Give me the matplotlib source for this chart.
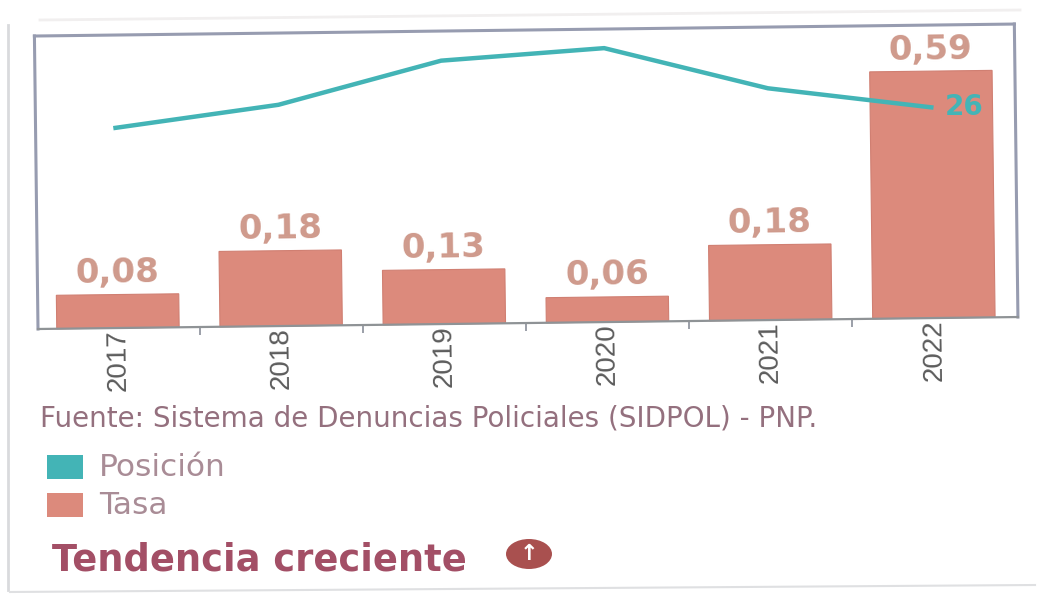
import numpy as np
from matplotlib import pyplot as plt
from matplotlib.patches import Ellipse, FancyBboxPatch
from matplotlib.transforms import Affine2D

years = ["2017", "2018", "2019", "2020", "2021", "2022"]
tasa = [0.08, 0.18, 0.13, 0.06, 0.18, 0.59]
tasa_labels = ["0,08", "0,18", "0,13", "0,06", "0,18", "0,59"]
posicion = [27, 25, 21, 20, 24, 26]
posicion_last = "26"

W, H = 1037, 595
red = "#dc8a7c"
teal = "#43b4b6"
label_red = "#cf9a8c"

fig = plt.figure(figsize=(W / 100, H / 100), dpi=100)
fig.patch.set_facecolor("white")

# the page was scanned a little crooked, so the plot is turned with it
tilt = Affine2D().rotate_deg_around(38, H - 329, 0.7)

ax = fig.add_axes([38 / W, 1 - 329 / H, (1018 - 38) / W, (329 - 36) / H])
ax.set_facecolor("white")
x = np.arange(len(years))
bars = ax.bar(x, tasa, width=0.75, color=red, edgecolor="#d07f72", linewidth=0.8)
for b in bars:
    b.set_transform(ax.transData + tilt)
    b.set_clip_on(False)
ax.set_xlim(-0.49, 5.515)
ax.set_ylim(0, 0.70)
ax.set_xticks(x)
ax.set_xticklabels(years, rotation=90.7, fontsize=20, color="#5c5c5c", family="Liberation Sans")
ax.set_xticks(x[:-1] + 0.5, minor=True)
ax.set_yticks([])
ax.tick_params(axis="x", which="major", length=0, pad=1)
ax.tick_params(axis="x", which="minor", length=6, width=1.2, color="#8a8f99")
ax.figure.canvas.draw()
for tick in ax.xaxis.get_major_ticks() + ax.xaxis.get_minor_ticks():
    for part in (tick.label1, tick.tick1line):
        part.set_transform(part.get_transform() + tilt)

for s in ax.spines.values():
    s.set_transform(s.get_transform() + tilt)
    s.set_color("#979cb0")
    s.set_linewidth(2.2)
ax.spines["bottom"].set_color("#8f9396")
ax.spines["bottom"].set_linewidth(1.6)

for xi, v, t in zip(x, tasa, tasa_labels):
    ax.text(xi, v + 0.012, t, ha="center", va="bottom", fontsize=24.5, fontweight="bold",
            color=label_red, family="DejaVu Sans", rotation=0.7, rotation_mode="anchor",
            transform=ax.transData + tilt, clip_on=False)

# the line has its own axis, a lower position sits higher
ax2 = ax.twinx()
ax2.set_ylim(46, 18.19)
ax2.set_yticks([])
for s in ax2.spines.values():
    s.set_visible(False)
ax2.plot(x, posicion, color=teal, linewidth=3.2, transform=ax2.transData + tilt, clip_on=False)
ax2.text(x[-1] + 0.2, posicion[-1], posicion_last, ha="center", va="center", fontsize=20,
         fontweight="bold", color=teal, family="DejaVu Sans", transform=ax2.transData + tilt)

fig.text(40 / W, 1 - 419 / H, "Fuente: Sistema de Denuncias Policiales (SIDPOL) - PNP.",
         fontsize=20, color="#94707e", va="center", family="DejaVu Sans")

fig.add_artist(FancyBboxPatch((47 / W, 1 - 479 / H), 36 / W, 24 / H, boxstyle="square,pad=0",
                              transform=fig.transFigure, facecolor=teal, edgecolor="none"))
fig.add_artist(FancyBboxPatch((47 / W, 1 - 517 / H), 36 / W, 24 / H, boxstyle="square,pad=0",
                              transform=fig.transFigure, facecolor=red, edgecolor="none"))
fig.text(99 / W, 1 - 467 / H, "Posición", fontsize=22.5, color="#a98c96", va="center", family="DejaVu Sans")
fig.text(99 / W, 1 - 505 / H, "Tasa", fontsize=22.5, color="#a98c96", va="center", family="DejaVu Sans")
fig.text(52 / W, 1 - 560 / H, "Tendencia creciente", fontsize=26.5, fontweight="bold", color="#a34f66",
         va="center", family="DejaVu Sans")

fig.add_artist(Ellipse((529 / W, 1 - 554 / H), 46 / W, 30 / H, transform=fig.transFigure,
                       facecolor="#a9504f", edgecolor="none"))
fig.text(529 / W, 1 - 554 / H, "↑", fontsize=16, fontweight="bold", color="white", ha="center",
         va="center", family="DejaVu Sans")

# scan edges
fig.add_artist(plt.Line2D([8 / W, 8 / W], [1 - 590 / H, 1 - 25 / H], color="#d9dadd", linewidth=2))
fig.add_artist(plt.Line2D([10 / W, 1 - 2 / W], [1 - 592 / H, 1 - 585 / H], color="#dfe0e2", linewidth=1.5))
fig.add_artist(plt.Line2D([40 / W, 1020 / W], [1 - 20 / H, 1 - 10 / H], color="#f1efef", linewidth=2))

fig.savefig("out.png", dpi=100, facecolor=fig.get_facecolor())
